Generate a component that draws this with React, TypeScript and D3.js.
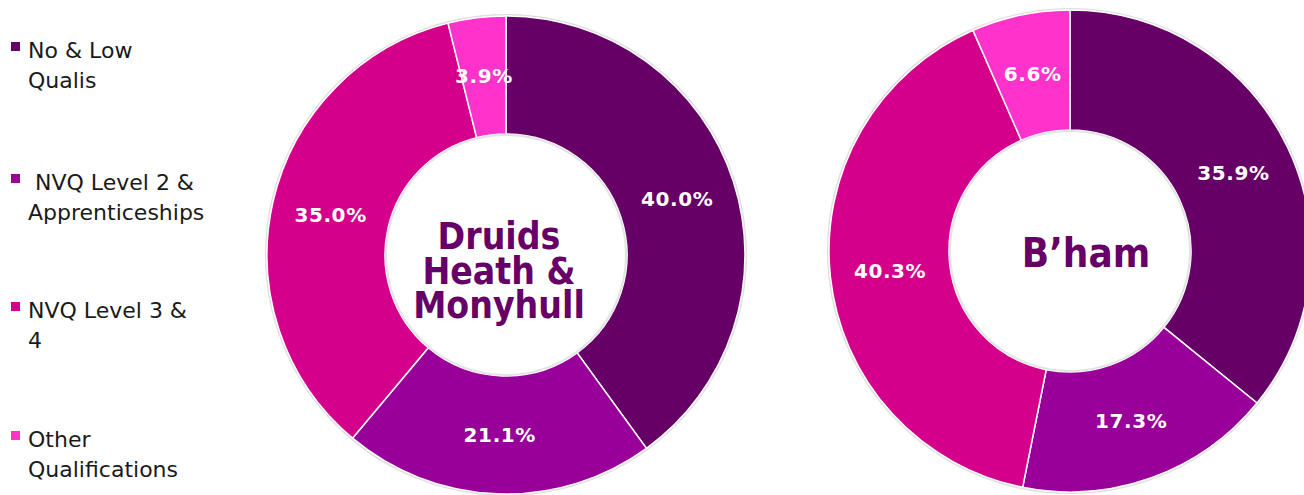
import React from "react";
import * as d3 from "d3";

const categories = ["No & Low Qualis", "NVQ Level 2 & Apprenticeships", "NVQ Level 3 & 4", "Other Qualifications"];
const legendLines = [["No & Low", "Qualis"], ["\u00a0NVQ Level 2 &", "Apprenticeships"], ["NVQ Level 3 &", "4"], ["Other", "Qualifications"]];
const colors = ["#660066", "#990099", "#D4008C", "#FF33CC"];
const druidsValues = [40.0, 21.1, 35.0, 3.9];
const bhamValues = [35.9, 17.3, 40.3, 6.6];
const druidsTitle = ["Druids", "Heath &", "Monyhull"];
const bhamTitle = ["B\u2019ham"];

type DonutProps = {
  values: number[];
  cx: number;
  cy: number;
  outer: number;
  inner: number;
  title: string[];
  titleX: number;
  titleBaselines: number[];
  titleSize: number;
};

function Donut({ values, cx, cy, outer, inner, title, titleX, titleBaselines, titleSize }: DonutProps) {
  const pie = d3.pie<number>().value((d) => d).sort(null);
  const arcs = pie(values);
  const arc = d3.arc<d3.PieArcDatum<number>>().innerRadius(inner).outerRadius(outer);
  return (
    <g>
      <g transform={`translate(${cx},${cy})`}>
        <circle r={outer + 1} fill="none" stroke="#c8c8c8" strokeWidth={2} opacity={0.6} />
        {arcs.map((a, i) => (
          <path key={i} d={arc(a) || ""} fill={colors[i]} stroke="#ffffff" strokeWidth={1.5} />
        ))}
        <circle r={inner - 1} fill="none" stroke="#d0d0d0" strokeWidth={2} opacity={0.6} />
        {arcs.map((a, i) => {
          const [x, y] = arc.centroid(a);
          return (
            <text
              key={"l" + i}
              x={x}
              y={y}
              textAnchor="middle"
              dominantBaseline="central"
              fill="#ffffff"
              fontFamily="'DejaVu Sans', Verdana, sans-serif"
              fontWeight="bold"
              fontSize={20}
              letterSpacing={0.6}
            >
              {values[i].toFixed(1) + "%"}
            </text>
          );
        })}
      </g>
      {title.map((t, i) => (
        <text
          key={"t" + i}
          x={titleX}
          y={titleBaselines[i]}
          textAnchor="middle"
          fill="#660066"
          fontFamily="'DejaVu Sans Condensed', 'DejaVu Sans', sans-serif"
          fontStretch="condensed"
          fontWeight="bold"
          fontSize={titleSize}
        >
          {t}
        </text>
      ))}
    </g>
  );
}

export default function App() {
  const legendBaselines = [58, 190, 318, 447];
  return (
    <svg
      width={1304}
      height={495}
      style={{ position: "absolute", left: 0, top: 0, background: "#ffffff" }}
    >
      {categories.map((c, i) => (
        <g key={c}>
          <rect x={11} y={legendBaselines[i] - 16} width={9} height={9} fill={colors[i]} />
          {legendLines[i].map((l, j) => (
            <text
              key={j}
              x={28}
              y={legendBaselines[i] + j * 30}
              fill="#1a1a1a"
              fontFamily="'DejaVu Sans', Verdana, sans-serif"
              fontSize={22}
            >
              {l}
            </text>
          ))}
        </g>
      ))}
      <Donut
        values={druidsValues}
        cx={506}
        cy={255}
        outer={239}
        inner={121}
        title={druidsTitle}
        titleX={499}
        titleBaselines={[249, 284, 318]}
        titleSize={37}
      />
      <Donut
        values={bhamValues}
        cx={1070}
        cy={251}
        outer={241}
        inner={121}
        title={bhamTitle}
        titleX={1086}
        titleBaselines={[267]}
        titleSize={40}
      />
    </svg>
  );
}
